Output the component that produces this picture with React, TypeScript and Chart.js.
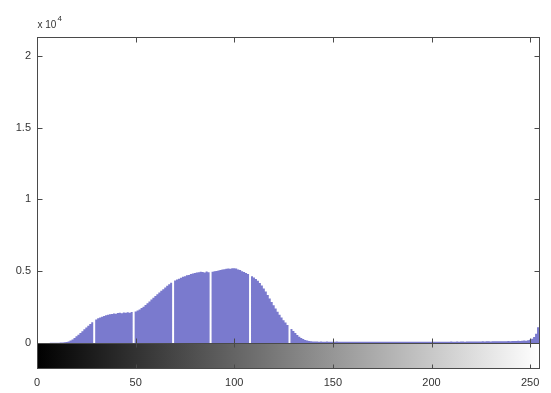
import { useEffect, useRef } from "react";
import { Chart, registerables } from "chart.js";

Chart.register(...registerables);

// Pixel counts per gray level, split by tonal range.
const shadowCounts = [
  0, 0, 0, 0, 0, 5, 5, 10, 10, 15, 20, 25, 30, 40, 55, 75,
  110, 170, 250, 350, 470, 580, 700, 820, 950, 1080, 1200, 1330, 1450, 0, 1640, 1720,
  1780, 1830, 1880, 1930, 1970, 2000, 2010, 2060, 2040, 2090, 2100, 2070, 2120, 2100, 2140, 2110,
  2160, 0, 2200, 2260, 2340, 2430, 2530, 2640, 2760, 2890, 3020, 3150, 3280, 3400, 3520, 3640,
];
const midtoneCounts = [
  3750, 3870, 3980, 4090, 4190, 0, 4350, 4420, 4480, 4540, 4610, 4650, 4720, 4740, 4800, 4830,
  4870, 4900, 4930, 4960, 4950, 4910, 4980, 4930, 0, 4960, 5000, 5020, 5050, 5090, 5120, 5140,
  5160, 5190, 5170, 5210, 5200, 5180, 5120, 5080, 5000, 4950, 4880, 4800, 0, 4650, 4560, 4460,
  4330, 4180, 4000, 3800, 3580, 3340, 3100, 2860, 2620, 2400, 2180, 1970, 1780, 1590, 1420, 1260,
];
const highlightCounts = [
  0, 970, 840, 700, 560, 440, 340, 270, 210, 170, 140, 120, 110, 100, 105, 95,
  100, 90, 95, 100, 90, 85, 95, 90, 100, 85, 90, 95, 85, 90, 80, 90,
  85, 90, 80, 85, 90, 80, 85, 90, 85, 80, 90, 85, 80, 85, 90, 85,
  80, 85, 90, 80, 85, 80, 90, 85, 80, 85, 90, 85, 80, 90, 85, 80,
];
const brightCounts = [
  85, 90, 80, 85, 90, 85, 80, 90, 85, 95, 90, 85, 90, 95, 85, 90,
  95, 90, 100, 95, 90, 100, 95, 105, 100, 95, 105, 100, 110, 100, 105, 110,
  105, 110, 115, 110, 120, 115, 110, 120, 125, 115, 120, 130, 125, 120, 130, 135,
  130, 140, 135, 145, 150, 140, 160, 170, 160, 190, 230, 300, 420, 650, 1100, 1900,
];

const counts = [...shadowCounts, ...midtoneCounts, ...highlightCounts, ...brightCounts];
const grayLevels = counts.map((_, i) => i);

const xTickValues = [0, 50, 100, 150, 200, 250];
const yTickValues = [0, 5000, 10000, 15000, 20000];
const yExponent = 4;

const X_MAX = 255;
const Y_MAX = 21300;
const BAR_COLOR = "rgb(122,122,206)";
const FRAME_COLOR = "#4a4a4a";
const TEXT_COLOR = "#333";
const FONT_FAMILY = "'Liberation Sans', Arial, sans-serif";

const frameAndColorbar = {
  id: "frameAndColorbar",
  afterDatasetsDraw(chart: any) {
    const { ctx, chartArea: a, scales } = chart;
    const x = scales.x;
    const y = scales.y;
    const L = Math.round(a.left) + 0.5;
    const R = Math.round(a.right) - 0.5;
    const T = Math.round(a.top) + 0.5;
    const B = Math.round(a.bottom) + 0.5;
    const barTop = B;
    const barBottom = B + 25;
    ctx.save();

    // gray-level colorbar under the histogram
    const g = ctx.createLinearGradient(x.getPixelForValue(0), 0, x.getPixelForValue(X_MAX), 0);
    g.addColorStop(0, "#000");
    g.addColorStop(1, "#fff");
    ctx.fillStyle = g;
    ctx.fillRect(L, barTop, R - L, barBottom - barTop);

    ctx.strokeStyle = FRAME_COLOR;
    ctx.lineWidth = 1;
    ctx.strokeRect(L, T, R - L, B - T);
    ctx.strokeRect(L, barTop, R - L, barBottom - barTop);

    const tick = 5;
    ctx.beginPath();
    for (const v of xTickValues) {
      const px = Math.round(x.getPixelForValue(v)) + 0.5;
      ctx.moveTo(px, B);
      ctx.lineTo(px, B - tick);
      ctx.moveTo(px, T);
      ctx.lineTo(px, T + tick);
      ctx.moveTo(px, barTop);
      ctx.lineTo(px, barTop + 4);
      ctx.moveTo(px, barBottom);
      ctx.lineTo(px, barBottom - 4);
    }
    for (const v of yTickValues) {
      const py = Math.round(y.getPixelForValue(v)) + 0.5;
      ctx.moveTo(L, py);
      ctx.lineTo(L + tick, py);
      ctx.moveTo(R, py);
      ctx.lineTo(R - tick, py);
    }
    ctx.stroke();

    // scale factor label above the y axis
    ctx.fillStyle = TEXT_COLOR;
    ctx.textBaseline = "alphabetic";
    ctx.textAlign = "left";
    ctx.font = `10px ${FONT_FAMILY}`;
    ctx.fillText("x 10", L, 28);
    const w = ctx.measureText("x 10").width;
    ctx.font = `8px ${FONT_FAMILY}`;
    ctx.fillText(String(yExponent), L + w + 1, 21);
    ctx.restore();
  },
};

export default function App() {
  const canvasRef = useRef<HTMLCanvasElement | null>(null);

  useEffect(() => {
    const canvas = canvasRef.current;
    if (!canvas) return;
    const chart = new Chart(canvas, {
      type: "line",
      data: {
        datasets: [
          {
            // one step per gray level, filled down to zero
            data: grayLevels.map((g, i) => ({ x: g, y: counts[i] })),
            stepped: "middle",
            fill: "origin",
            backgroundColor: BAR_COLOR,
            borderColor: "rgba(0,0,0,0)",
            borderWidth: 0,
            pointRadius: 0,
          } as any,
        ],
      },
      options: {
        animation: false,
        responsive: true,
        maintainAspectRatio: false,
        layout: { padding: { top: 37, right: 11, left: 0, bottom: 0 } },
        plugins: { legend: { display: false }, tooltip: { enabled: false } },
        scales: {
          x: {
            type: "linear",
            min: 0,
            max: X_MAX,
            offset: false,
            grid: { display: false, drawTicks: false, offset: false },
            border: { display: false },
            afterBuildTicks: (s: any) => {
              s.ticks = xTickValues.map((v) => ({ value: v }));
            },
            afterFit: (s: any) => {
              s.height = 50;
              s.paddingLeft = 0;
              s.paddingRight = 0;
            },
            ticks: {
              autoSkip: false,
              maxRotation: 0,
              padding: 33,
              color: TEXT_COLOR,
              font: { family: FONT_FAMILY, size: 11 },
              callback: (v: any) => String(v),
            },
          },
          y: {
            min: 0,
            max: Y_MAX,
            grid: { display: false, drawTicks: false },
            border: { display: false },
            afterBuildTicks: (s: any) => {
              s.ticks = yTickValues.map((v) => ({ value: v }));
            },
            afterFit: (s: any) => {
              s.width = 37;
              s.paddingTop = 0;
              s.paddingBottom = 0;
            },
            ticks: {
              padding: 6,
              color: TEXT_COLOR,
              font: { family: FONT_FAMILY, size: 11 },
              callback: (v: any) => String(Number(v) / Math.pow(10, yExponent)),
            },
          },
        },
      },
      plugins: [frameAndColorbar],
    });
    return () => chart.destroy();
  }, []);

  return (
    <div style={{ position: "fixed", left: 0, top: 0, width: 551, height: 393, background: "#fff" }}>
      <canvas ref={canvasRef} />
    </div>
  );
}
